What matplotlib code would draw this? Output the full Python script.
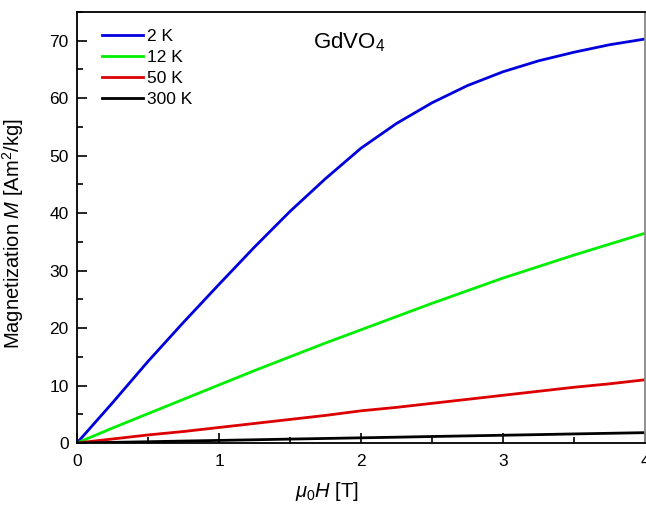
import matplotlib
matplotlib.use('Agg')
import matplotlib.pyplot as plt
from matplotlib.ticker import MultipleLocator

plt.rcParams['font.family'] = ['Liberation Sans', 'DejaVu Sans']
plt.rcParams['mathtext.fontset'] = 'custom'
plt.rcParams['mathtext.it'] = 'Liberation Sans:italic'
plt.rcParams['mathtext.rm'] = 'Liberation Sans'

# field in tesla
field = [0, 0.25, 0.5, 0.75, 1.0, 1.25, 1.5, 1.75, 2.0,
         2.25, 2.5, 2.75, 3.0, 3.25, 3.5, 3.75, 4.0]

m_2K = [0, 7.0, 14.2, 21.0, 27.6, 34.1, 40.3, 46.0, 51.3,
        55.6, 59.2, 62.2, 64.6, 66.5, 68.0, 69.3, 70.3]
m_12K = [0, 2.6, 5.1, 7.6, 10.1, 12.6, 15.0, 17.4, 19.7,
         22.0, 24.3, 26.5, 28.7, 30.7, 32.7, 34.6, 36.5]
m_50K = [0, 0.7, 1.4, 2.0, 2.7, 3.4, 4.1, 4.8, 5.6,
         6.2, 6.9, 7.6, 8.3, 9.0, 9.7, 10.3, 11.0]
m_300K = [0, 0.11, 0.22, 0.34, 0.45, 0.56, 0.68, 0.79, 0.9,
          1.01, 1.13, 1.24, 1.35, 1.46, 1.58, 1.69, 1.8]

labels = ['2 K', '12 K', '50 K', '300 K']
colors = ['#0000dd', '#00ee00', '#dd0000', '#000000']

fig = plt.figure(figsize=(6.46, 5.05), dpi=100)
ax = fig.add_axes([77/646, 1 - 443/505, 568/646, 431/505])

for m, lab, c in zip([m_2K, m_12K, m_50K, m_300K], labels, colors):
    ax.plot(field, m, color=c, lw=2.0, label=lab)

ax.set_xlim(0, 4)
ax.set_ylim(0, 75)
ax.xaxis.set_major_locator(MultipleLocator(1))
ax.xaxis.set_minor_locator(MultipleLocator(0.5))
ax.yaxis.set_major_locator(MultipleLocator(10))
ax.yaxis.set_minor_locator(MultipleLocator(5))
ax.tick_params(which='major', direction='in', length=7, width=1.2, labelsize=12.5)
ax.tick_params(which='minor', direction='in', length=4, width=1.2)
ax.tick_params(axis='x', pad=8)
ax.tick_params(axis='y', pad=6)
for s in ax.spines.values():
    s.set_linewidth(1.3)
ax.spines['right'].set_color('#888888')

ax.set_xlabel(r'$\mu_0H$ [T]', fontsize=14.5)
ax.xaxis.set_label_coords(0.44, -0.087)
ax.xaxis.label.set_va('top')
ax.set_ylabel(r'Magnetization $M$ [Am$^2$/kg]', fontsize=14.5)
ax.yaxis.set_label_coords(-0.09, 0.485)

ax.text(0.415, 0.93, r'GdVO$_4$', transform=ax.transAxes, fontsize=16,
        ha='left', va='center')

ax.legend(loc='upper left', bbox_to_anchor=(0.025, 0.985), frameon=False,
          fontsize=12.5, handlelength=2.4, handletextpad=0.2,
          labelspacing=0.33, borderaxespad=0.2)

fig.savefig('out.png', dpi=100)
